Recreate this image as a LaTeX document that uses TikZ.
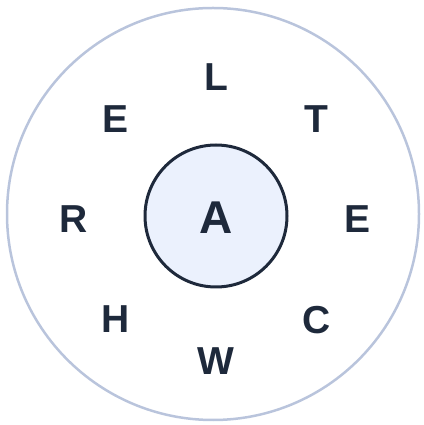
\documentclass[tikz,border=0pt]{standalone}
\usepackage{fontspec}
\setmainfont{Liberation Sans}
\usetikzlibrary{positioning, calc}

\definecolor{ringline}{HTML}{B9C4DC}
\definecolor{hubfill}{HTML}{EBF1FD}
\definecolor{inkdark}{HTML}{1E293B}

\begin{document}
\begin{tikzpicture}[
        x=1pt, y=1pt,
        ring/.style={draw=ringline, line width=2.5pt, circle, minimum size=412pt, inner sep=0pt},
        hub/.style={draw=inkdark, fill=hubfill, line width=3pt, circle, minimum size=142pt, inner sep=0pt,
            text=inkdark, font=\fontsize{46}{46}\selectfont\bfseries, text depth=0pt},
        letter/.style={text=inkdark, font=\fontsize{39}{39}\selectfont\bfseries, inner sep=0pt, text depth=0pt}
    ]
        \useasboundingbox (0,0) rectangle (423,425);

        % The outer ring
        \node[ring] (outer) at (213,211) {};

        % The centre letter
        \node[hub] (centre) at (216,209) {};
        \node[text=inkdark, font=\fontsize{46}{46}\selectfont\bfseries, inner sep=0pt, text depth=0pt] (mid) at (216,207) {A};

        % The letters round the centre
        \foreach \ch/\ang/\nm in {L/90/top, T/45/topright, E/0/right, C/-45/botright,
                                  W/-90/bottom, H/-135/botleft, R/180/left, E/135/topleft}
            \node[letter] (\nm) at ($(216,206)+(\ang:142)$) {\ch};
    \end{tikzpicture}
\end{document}
